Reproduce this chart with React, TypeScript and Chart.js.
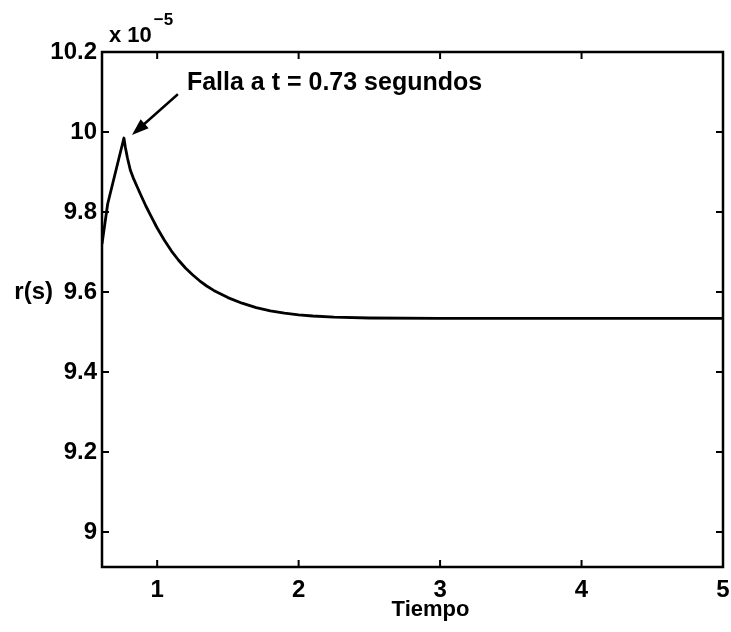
import { useEffect, useRef } from "react";
import { Chart, registerables } from "chart.js";

Chart.register(...registerables);

// Residual r(s) after the fault, values in units of 1e-5
const TIME = [
  0.61, 0.65, 0.765, 0.775, 0.79, 0.81, 0.83, 0.86, 0.89, 0.92, 0.96, 1.0, 1.05,
  1.1, 1.15, 1.2, 1.25, 1.3, 1.35, 1.4, 1.45, 1.5, 1.6, 1.7, 1.8, 1.9, 2.0, 2.1,
  2.25, 2.5, 3.0, 3.5, 4.0, 4.5, 5.0,
];
const RESPONSE = [
  9.72, 9.82, 9.985, 9.962, 9.935, 9.905, 9.886, 9.862, 9.838, 9.815, 9.787,
  9.76, 9.73, 9.703, 9.68, 9.66, 9.643, 9.628, 9.615, 9.604, 9.595, 9.586,
  9.572, 9.561, 9.553, 9.547, 9.543, 9.54, 9.537, 9.535, 9.534, 9.534, 9.534,
  9.534, 9.534,
];

const X_TICKS = [1, 2, 3, 4, 5];
const Y_TICKS = [9, 9.2, 9.4, 9.6, 9.8, 10, 10.2];
const X_MIN = 0.61;
const X_MAX = 5;
const Y_MIN = 8.9125;
const Y_MAX = 10.2;
const EXPONENT = "\u22125";

const FAULT_TIME = 0.73;
const PEAK_INDEX = 2;
const NOTE = `Falla a t = ${FAULT_TIME} segundos`;
const X_LABEL = "Tiempo";
const Y_LABEL = "r(s)";

const FONT = "'Liberation Sans', Arial, Helvetica, sans-serif";

const framePlugin = {
  id: "matlabFrame",
  afterDraw(chart: any) {
    const { ctx, chartArea: a, scales } = chart;
    const xs = scales.x;
    const ys = scales.y;
    ctx.save();
    ctx.strokeStyle = "#000";
    ctx.fillStyle = "#000";
    ctx.lineWidth = 2.5;
    ctx.lineCap = "square";

    // axes box
    ctx.strokeRect(a.left, a.top, a.right - a.left, a.bottom - a.top);

    // inward ticks on all four sides
    const tl = 6;
    ctx.lineWidth = 2;
    ctx.beginPath();
    X_TICKS.forEach((t) => {
      const px = xs.getPixelForValue(t);
      ctx.moveTo(px, a.bottom);
      ctx.lineTo(px, a.bottom - tl);
      ctx.moveTo(px, a.top);
      ctx.lineTo(px, a.top + tl);
    });
    Y_TICKS.forEach((v) => {
      const py = ys.getPixelForValue(v);
      ctx.moveTo(a.left, py);
      ctx.lineTo(a.left + tl, py);
      ctx.moveTo(a.right, py);
      ctx.lineTo(a.right - tl, py);
    });
    ctx.stroke();

    // exponent label above the y axis
    ctx.textBaseline = "alphabetic";
    ctx.textAlign = "left";
    ctx.font = `bold 22px ${FONT}`;
    const base = "x 10";
    ctx.fillText(base, a.left + 7, a.top - 10);
    const bw = ctx.measureText(base).width;
    ctx.font = `bold 17px ${FONT}`;
    ctx.fillText(EXPONENT, a.left + 9 + bw, a.top - 27);

    // y label, horizontal
    ctx.font = `bold 24px ${FONT}`;
    ctx.textAlign = "right";
    ctx.textBaseline = "middle";
    ctx.fillText(Y_LABEL, 53, (a.top + a.bottom) / 2 - 17);

    // x label
    ctx.font = `bold 22px ${FONT}`;
    ctx.textAlign = "center";
    ctx.textBaseline = "alphabetic";
    ctx.fillText(X_LABEL, (a.left + a.right) / 2 + 18, a.bottom + 49);

    // annotation arrow pointing at the peak
    const peakX = xs.getPixelForValue(TIME[PEAK_INDEX]);
    const peakY = ys.getPixelForValue(RESPONSE[PEAK_INDEX]);
    const tipX = peakX + 8;
    const tipY = peakY - 3;
    const tailX = peakX + 53;
    const tailY = peakY - 43;
    const ang = Math.atan2(tipY - tailY, tipX - tailX);
    const headLen = 17;
    const headW = 6;
    const bx = tipX - headLen * Math.cos(ang);
    const by = tipY - headLen * Math.sin(ang);
    ctx.lineWidth = 2.5;
    ctx.beginPath();
    ctx.moveTo(tailX, tailY);
    ctx.lineTo(bx, by);
    ctx.stroke();
    ctx.beginPath();
    ctx.moveTo(tipX, tipY);
    ctx.lineTo(bx + headW * Math.sin(ang), by - headW * Math.cos(ang));
    ctx.lineTo(bx - headW * Math.sin(ang), by + headW * Math.cos(ang));
    ctx.closePath();
    ctx.fill();

    ctx.font = `bold 25px ${FONT}`;
    ctx.textAlign = "left";
    ctx.textBaseline = "alphabetic";
    ctx.fillText(NOTE, peakX + 63, peakY - 48);

    ctx.restore();
  },
};

export default function App() {
  const canvasRef = useRef<HTMLCanvasElement | null>(null);

  useEffect(() => {
    const canvas = canvasRef.current;
    if (!canvas) return;
    const chart = new Chart(canvas, {
      type: "line",
      data: {
        datasets: [
          {
            data: TIME.map((t, i) => ({ x: t, y: RESPONSE[i] })),
            borderColor: "#000",
            borderWidth: 2.8,
            pointRadius: 0,
            tension: 0,
            borderJoinStyle: "round",
            fill: false,
          },
        ],
      },
      options: {
        animation: false,
        responsive: false,
        devicePixelRatio: 1,
        layout: { padding: { left: 0, right: 8, top: 52, bottom: 0 } },
        plugins: {
          legend: { display: false },
          tooltip: { enabled: false },
        },
        scales: {
          x: {
            type: "linear",
            min: X_MIN,
            max: X_MAX,
            grid: { display: false, drawTicks: false },
            border: { display: false },
            afterBuildTicks: (scale: any) => {
              scale.ticks = X_TICKS.map((value) => ({ value }));
            },
            afterFit: (scale: any) => {
              scale.height = 65;
              scale.paddingLeft = 0;
              scale.paddingRight = 0;
            },
            ticks: {
              color: "#000",
              padding: 9,
              maxRotation: 0,
              font: { family: FONT, size: 24, weight: "bold" },
              callback: (v: any) => String(v),
            },
          },
          y: {
            type: "linear",
            min: Y_MIN,
            max: Y_MAX,
            grid: { display: false, drawTicks: false },
            border: { display: false },
            afterBuildTicks: (scale: any) => {
              scale.ticks = Y_TICKS.map((value) => ({ value }));
            },
            afterFit: (scale: any) => {
              scale.width = 102;
              scale.paddingTop = 0;
              scale.paddingBottom = 0;
            },
            ticks: {
              color: "#000",
              padding: 5,
              font: { family: FONT, size: 24, weight: "bold" },
              callback: (v: any) => String(Number(Number(v).toFixed(1))),
            },
          },
        },
      },
      plugins: [framePlugin],
    });
    return () => chart.destroy();
  }, []);

  return (
    <div
      style={{
        position: "absolute",
        left: 0,
        top: 0,
        width: 731,
        height: 632,
        background: "#fff",
      }}
    >
      <canvas ref={canvasRef} width={731} height={632} />
    </div>
  );
}
